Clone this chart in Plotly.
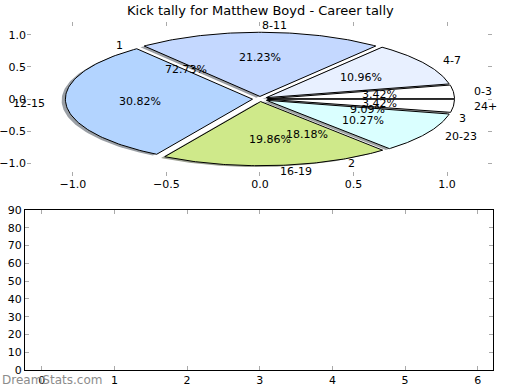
import numpy as np
import plotly.graph_objects as go

# ---- data ----
dist_labels = ["0-3", "4-7", "8-11", "12-15", "16-19", "20-23", "24+"]
dist_pct = [3.42, 10.96, 21.23, 30.82, 19.86, 10.27, 3.42]
goal_labels = ["1", "2", "3"]
goal_pct = [72.73, 18.18, 9.09]
xticks_top = [-1.0, -0.5, 0.0, 0.5, 1.0]
yticks_top = [-1.0, -0.5, 0.0, 0.5, 1.0]
xticks_bottom = [0, 1, 2, 3, 4, 5, 6]
yticks_bottom = [0, 10, 20, 30, 40, 50, 60, 70, 80, 90]

# ---- style ----
dist_colors = ["#ffffff", "#e8f0ff", "#c4d8ff", "#b3d4ff", "#cfe98a", "#daffff", "#ffffff"]
EXPLODE = 0.04
FONT = "DejaVu Sans"

fig = go.Figure()


def wedge(cx, cy, t1, t2, r=1.0, n=90):
    th = np.radians(np.linspace(t1, t2, n))
    xs = np.concatenate([[cx], cx + r * np.cos(th), [cx]])
    ys = np.concatenate([[cy], cy + r * np.sin(th), [cy]])
    return xs, ys


def hex_to_rgb(h):
    h = h.lstrip("#")
    return tuple(int(h[i:i + 2], 16) for i in (0, 2, 4))


annotations = []

# pie 1 geometry
total = sum(dist_pct)
angles = []
a = 0.0
for v in dist_pct:
    t1 = a
    t2 = a + 360.0 * v / total
    angles.append((t1, t2))
    a = t2

# shadows first
for (t1, t2), col in zip(angles, dist_colors):
    mid = np.radians((t1 + t2) / 2)
    cx, cy = EXPLODE * np.cos(mid), EXPLODE * np.sin(mid)
    xs, ys = wedge(cx - 0.02, cy - 0.02, t1, t2)
    r, g, b = hex_to_rgb(col)
    fig.add_trace(go.Scatter(x=xs, y=ys, mode="lines", fill="toself",
                             fillcolor=f"rgba({int(r*0.3)},{int(g*0.3)},{int(b*0.3)},0.5)",
                             line=dict(width=0), hoverinfo="skip", showlegend=False,
                             xaxis="x", yaxis="y"))

# wedges
for (t1, t2), col, lab, v in zip(angles, dist_colors, dist_labels, dist_pct):
    mid = np.radians((t1 + t2) / 2)
    cx, cy = EXPLODE * np.cos(mid), EXPLODE * np.sin(mid)
    xs, ys = wedge(cx, cy, t1, t2)
    fig.add_trace(go.Scatter(x=xs, y=ys, mode="lines", fill="toself",
                             fillcolor=col, line=dict(color="black", width=1),
                             hoverinfo="skip", showlegend=False, xaxis="x", yaxis="y"))
    xt, yt = cx + 1.1 * np.cos(mid), cy + 1.1 * np.sin(mid)
    annotations.append(dict(x=xt, y=yt, xref="x", yref="y", text=lab, showarrow=False,
                            xanchor="left" if xt > 0 else "right", yanchor="middle",
                            font=dict(family=FONT, size=11, color="black")))
    xp, yp = cx + 0.6 * np.cos(mid), cy + 0.6 * np.sin(mid)
    annotations.append(dict(x=xp, y=yp, xref="x", yref="y", text=f"{v:.2f}%", showarrow=False,
                            xanchor="center", yanchor="middle",
                            font=dict(family=FONT, size=11, color="black")))

# pie 2 labels (wedges hidden under pie 1)
gtotal = sum(goal_pct)
a = 0.0
for lab, v in zip(goal_labels, goal_pct):
    t1 = a
    t2 = a + 360.0 * v / gtotal
    a = t2
    mid = np.radians((t1 + t2) / 2)
    xt, yt = 1.1 * np.cos(mid), 1.1 * np.sin(mid)
    annotations.append(dict(x=xt, y=yt, xref="x", yref="y", text=lab, showarrow=False,
                            xanchor="left" if xt > 0 else "right", yanchor="middle",
                            font=dict(family=FONT, size=11, color="black")))
    xp, yp = 0.6 * np.cos(mid), 0.6 * np.sin(mid)
    annotations.append(dict(x=xp, y=yp, xref="x", yref="y", text=f"{v:.2f}%", showarrow=False,
                            xanchor="center", yanchor="middle",
                            font=dict(family=FONT, size=11, color="black")))

# empty bottom axes trace
fig.add_trace(go.Scatter(x=[], y=[], xaxis="x2", yaxis="y2", showlegend=False))

annotations.append(dict(x=0.5, y=1 - 10 / 390, xref="paper", yref="paper", yanchor="middle",
                        text="Kick tally for Matthew Boyd - Career tally", showarrow=False,
                        font=dict(family=FONT, size=13, color="black")))
annotations.append(dict(x=0.0, y=1 - 380 / 390, xref="paper", yref="paper", xanchor="left",
                        yanchor="middle", text="DreamStats.com", showarrow=False,
                        font=dict(family=FONT, size=12, color="#8c8c8c")))

tickfont = dict(family=FONT, size=11, color="black")
common = dict(ticks="inside", ticklen=4, tickcolor="#aaaaaa", showgrid=False,
              zeroline=False, tickfont=tickfont, automargin=False)
fig.update_layout(
    width=520, height=390, margin=dict(l=0, r=0, t=0, b=0),
    paper_bgcolor="white", plot_bgcolor="white",
    showlegend=False,
    annotations=annotations,
    xaxis=dict(domain=[27 / 520, 492 / 520], range=[-1.245, 1.24], anchor="y",
               tickvals=xticks_top, tickformat=".1f", showline=False, mirror="ticks", **common),
    yaxis=dict(domain=[1 - 176 / 390, 1 - 22 / 390], range=[-1.2, 1.2], anchor="x",
               tickvals=yticks_top, tickformat=".1f", showline=False, mirror="ticks", **common),
    xaxis2=dict(domain=[25 / 520, 493 / 520], range=[-0.23, 6.21], anchor="y2",
                tickvals=xticks_bottom, showline=True, linecolor="black", linewidth=1,
                mirror="ticks", **common),
    yaxis2=dict(domain=[1 - 370 / 390, 1 - 210 / 390], range=[0, 90], anchor="x2",
                tickvals=yticks_bottom, showline=True, linecolor="black", linewidth=1,
                mirror="ticks", **common),
)

fig.write_html("out.html", config={"displayModeBar": False},
               post_script="document.body.style.margin='0';")
